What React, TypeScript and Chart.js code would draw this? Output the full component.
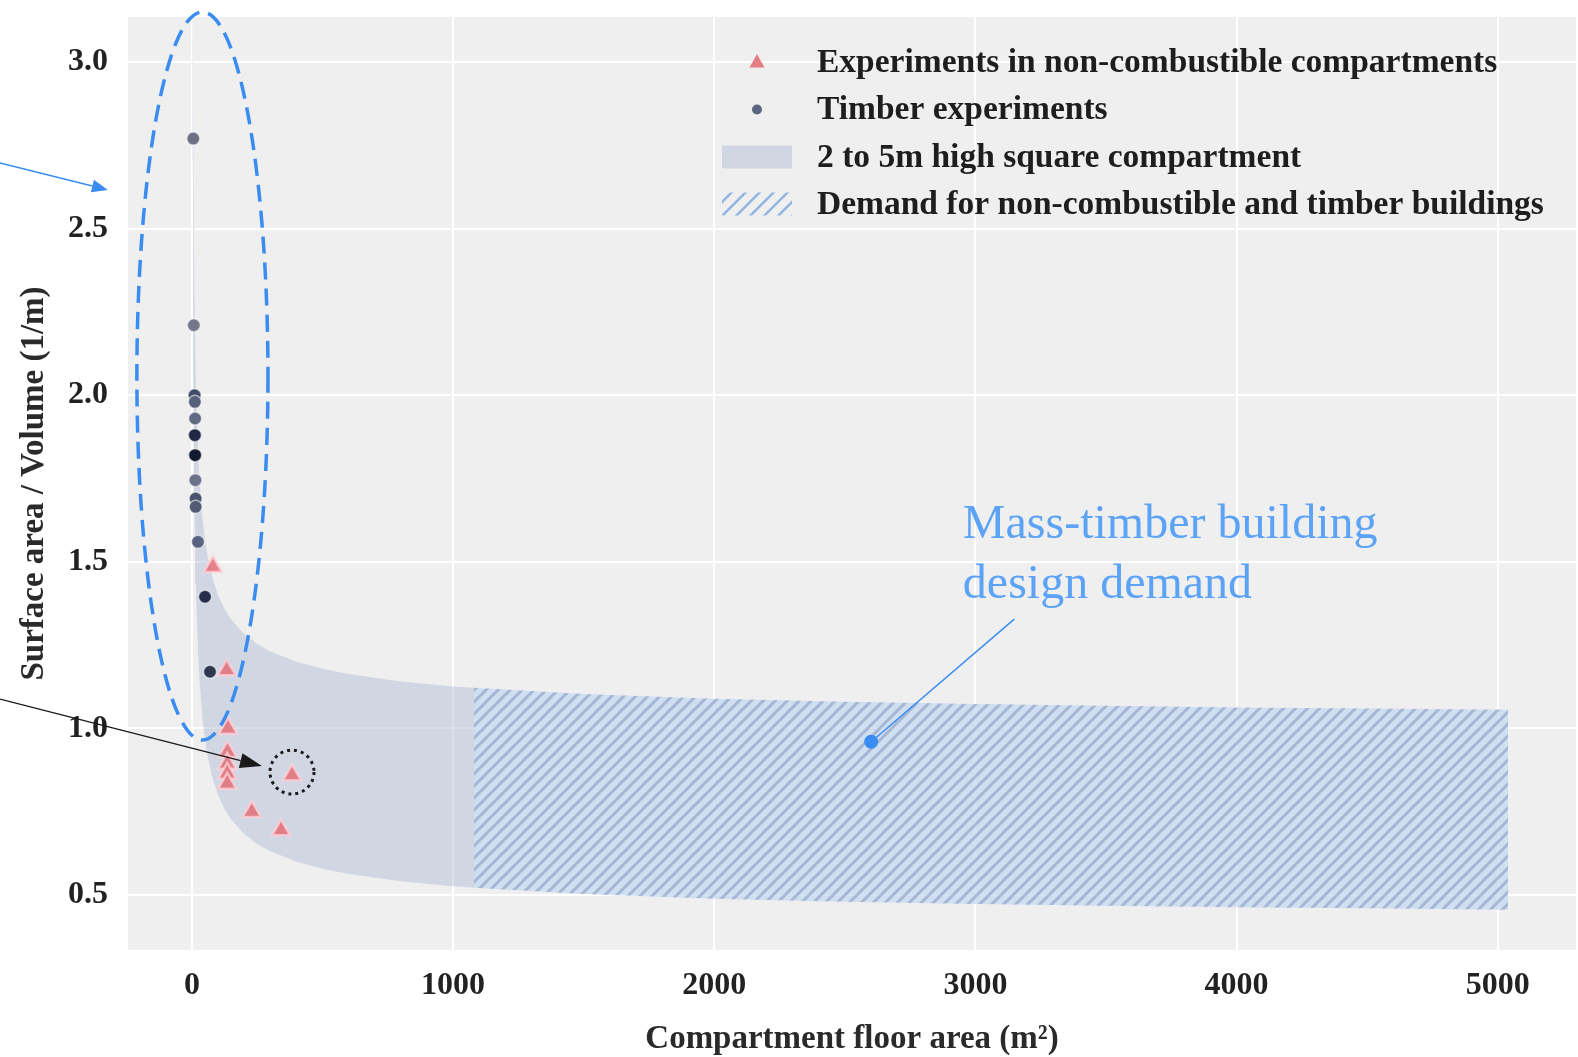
import React, { useEffect, useRef } from 'react';
import { Chart, registerables } from 'chart.js';

Chart.register(...registerables);

// Axis ticks
const xTicks = [0, 1000, 2000, 3000, 4000, 5000];
const yTicks = [0.5, 1.0, 1.5, 2.0, 2.5, 3.0];

// Timber compartment fire experiments: floor area (m²) and surface area / volume (1/m)
const timberArea = [5, 7, 10, 11, 12, 11, 12, 13, 14, 14, 23, 50, 69];
const timberRatio = [2.77, 2.21, 2.0, 1.98, 1.93, 1.88, 1.82, 1.745, 1.69, 1.665, 1.56, 1.395, 1.17];
const timberShade = [
  '#6e7183', '#74778a', '#3f4b68', '#56627c', '#5f6b82', '#1e2844', '#121a30',
  '#6a7188', '#4a546e', '#525c75', '#5a6480', '#242d4c', '#30384e',
];

// Experiments in non-combustible compartments
const nonCombArea = [80, 133, 138, 136, 135, 135, 135, 229, 341, 383];
const nonCombRatio = [1.485, 1.175, 1.0, 0.93, 0.895, 0.865, 0.835, 0.75, 0.695, 0.86];

// Envelope of 2 m (upper) to 5 m (lower) high square compartments
const bandArea = [1, 2, 3, 4, 5, 6, 8, 10, 12, 15, 20, 25, 30, 40, 50, 60, 80, 100, 125, 150, 200, 250, 300, 400, 500, 600, 800, 1000, 1080];
const bandUpper = [5.0, 3.828, 3.309, 3.0, 2.789, 2.633, 2.414, 2.265, 2.155, 2.033, 1.894, 1.8, 1.73, 1.632, 1.566, 1.516, 1.447, 1.4, 1.358, 1.327, 1.283, 1.253, 1.231, 1.2, 1.179, 1.163, 1.141, 1.126, 1.122];
const bandLower = [4.4, 3.228, 2.709, 2.4, 2.189, 2.033, 1.814, 1.665, 1.555, 1.433, 1.294, 1.2, 1.13, 1.032, 0.966, 0.916, 0.847, 0.8, 0.758, 0.727, 0.683, 0.653, 0.631, 0.6, 0.579, 0.563, 0.541, 0.526, 0.522];

// Demand range for non-combustible and timber buildings
const demandArea = [1080, 1500, 2000, 2500, 3000, 3500, 4000, 4500, 5040];
const demandUpper = [1.122, 1.103, 1.089, 1.08, 1.073, 1.068, 1.063, 1.06, 1.056];
const demandLower = [0.522, 0.503, 0.489, 0.48, 0.473, 0.468, 0.463, 0.46, 0.456];

const legendLabels = [
  'Experiments in non-combustible compartments',
  'Timber experiments',
  '2 to 5m high square compartment',
  'Demand for non-combustible and timber buildings',
];

const calloutLines = ['Mass-timber building', 'design demand'];

const SERIF = "'Liberation Serif', 'Times New Roman', serif";
const PLOT_BG = '#efeff0';
const BAND_FILL = 'rgba(168,182,208,0.42)';
const ACCENT = '#3a8cf0';

function toXY(xs: number[], ys: number[]) {
  return xs.map((x, i) => ({ x, y: ys[i] }));
}

function makeHatch(bg: string | null, line: string, size: number, width: number) {
  const c = document.createElement('canvas');
  c.width = size;
  c.height = size;
  const g = c.getContext('2d')!;
  if (bg) {
    g.fillStyle = bg;
    g.fillRect(0, 0, size, size);
  }
  g.strokeStyle = line;
  g.lineWidth = width;
  g.lineCap = 'square';
  for (const off of [-size, 0, size]) {
    g.beginPath();
    g.moveTo(off, size);
    g.lineTo(off + size, 0);
    g.stroke();
  }
  return g.createPattern(c, 'repeat')!;
}

function arrow(ctx: CanvasRenderingContext2D, x0: number, y0: number, x1: number, y1: number, color: string, lw: number, headLen: number, headW: number) {
  const ang = Math.atan2(y1 - y0, x1 - x0);
  const bx = x1 - Math.cos(ang) * headLen;
  const by = y1 - Math.sin(ang) * headLen;
  ctx.save();
  ctx.strokeStyle = color;
  ctx.fillStyle = color;
  ctx.lineWidth = lw;
  ctx.beginPath();
  ctx.moveTo(x0, y0);
  ctx.lineTo(bx, by);
  ctx.stroke();
  ctx.beginPath();
  ctx.moveTo(x1, y1);
  ctx.lineTo(bx + Math.sin(ang) * headW / 2, by - Math.cos(ang) * headW / 2);
  ctx.lineTo(bx - Math.sin(ang) * headW / 2, by + Math.cos(ang) * headW / 2);
  ctx.closePath();
  ctx.fill();
  ctx.restore();
}

export default function App() {
  const canvasRef = useRef<HTMLCanvasElement | null>(null);

  useEffect(() => {
    const canvas = canvasRef.current;
    if (!canvas) return;

    const demandPattern = makeHatch('rgba(200,218,243,0.8)', 'rgba(130,150,188,0.55)', 12, 3);
    const legendPattern = makeHatch(null, 'rgba(130,170,225,0.85)', 14, 2.5);

    const decorations = {
      id: 'decorations',
      beforeDraw(chart: any) {
        const { ctx, chartArea: a } = chart;
        ctx.save();
        ctx.fillStyle = PLOT_BG;
        ctx.fillRect(a.left, a.top, a.right - a.left, a.bottom - a.top);
        ctx.restore();
      },
      afterDatasetsDraw(chart: any) {
        const { ctx } = chart;
        const xs = chart.scales.x;
        const ys = chart.scales.y;
        const px = (a: number) => xs.getPixelForValue(a);
        const py = (v: number) => ys.getPixelForValue(v);

        // legend
        ctx.save();
        const lx = 722;
        const textX = 817;
        const rows = [62, 109.5, 157, 204];
        ctx.fillStyle = 'rgba(226,104,112,0.85)';
        ctx.beginPath();
        ctx.moveTo(757, rows[0] - 8);
        ctx.lineTo(757 + 7.5, rows[0] + 5.5);
        ctx.lineTo(757 - 7.5, rows[0] + 5.5);
        ctx.closePath();
        ctx.fill();
        ctx.fillStyle = '#5d6680';
        ctx.beginPath();
        ctx.arc(757, rows[1], 5, 0, Math.PI * 2);
        ctx.fill();
        ctx.fillStyle = BAND_FILL;
        ctx.fillRect(lx, rows[2] - 11.5, 70, 23);
        ctx.fillStyle = legendPattern;
        ctx.fillRect(lx, rows[3] - 11.5, 70, 23);
        ctx.fillStyle = '#1e1e1e';
        ctx.font = `bold 33.5px ${SERIF}`;
        ctx.textBaseline = 'middle';
        ctx.textAlign = 'left';
        legendLabels.forEach((t, i) => ctx.fillText(t, textX, rows[i] + 1));
        ctx.restore();

        // dashed ellipse around the timber experiments
        ctx.save();
        const eL = px(-211), eR = px(291), eT = py(3.15), eB = py(0.965);
        ctx.strokeStyle = ACCENT;
        ctx.lineWidth = 3.5;
        ctx.setLineDash([17, 9]);
        ctx.beginPath();
        ctx.ellipse((eL + eR) / 2, (eT + eB) / 2, (eR - eL) / 2, (eB - eT) / 2, 0, 0, Math.PI * 2);
        ctx.stroke();
        ctx.restore();

        // dotted circle around one non-combustible experiment
        ctx.save();
        ctx.strokeStyle = '#1a1a1a';
        ctx.lineWidth = 3;
        ctx.setLineDash([3, 4]);
        ctx.beginPath();
        ctx.arc(px(383), py(0.869), 22, 0, Math.PI * 2);
        ctx.stroke();
        ctx.restore();

        // arrows coming in from the left margin
        arrow(ctx, px(-735), py(2.697), px(-322), py(2.616), ACCENT, 1.6, 16, 13);
        arrow(ctx, px(-735), py(1.088), px(268), py(0.887), '#1a1a1a', 1.4, 22, 15);

        // callout for the demand region
        ctx.save();
        ctx.strokeStyle = ACCENT;
        ctx.fillStyle = ACCENT;
        ctx.lineWidth = 1.5;
        ctx.beginPath();
        ctx.moveTo(px(3149), py(1.328));
        ctx.lineTo(px(2601), py(0.96));
        ctx.stroke();
        ctx.beginPath();
        ctx.arc(px(2601), py(0.96), 7, 0, Math.PI * 2);
        ctx.fill();
        ctx.fillStyle = '#5ca3f6';
        ctx.font = `48px ${SERIF}`;
        ctx.textBaseline = 'alphabetic';
        ctx.textAlign = 'left';
        ctx.fillText(calloutLines[0], px(2952), py(1.57));
        ctx.fillText(calloutLines[1], px(2952), py(1.392));
        ctx.restore();
      },
    };

    const tickFont = { family: SERIF, size: 32, weight: 'bold' as const };
    const titleFont = { family: SERIF, size: 33, weight: 'bold' as const, lineHeight: 1.0 };

    const chart = new Chart(canvas, {
      type: 'scatter',
      data: {
        datasets: [
          {
            type: 'scatter',
            label: legendLabels[1],
            data: toXY(timberArea, timberRatio),
            pointStyle: 'circle',
            pointRadius: 6.5,
            backgroundColor: timberShade,
            borderColor: 'rgba(255,255,255,0.55)',
            borderWidth: 1.5,
            order: 1,
          },
          {
            type: 'scatter',
            label: legendLabels[0],
            data: toXY(nonCombArea, nonCombRatio),
            pointStyle: 'triangle',
            pointRadius: 10.5,
            backgroundColor: 'rgba(226,104,112,0.8)',
            borderColor: 'rgba(255,210,218,0.75)',
            borderWidth: 2.5,
            order: 0,
          },
          {
            type: 'line',
            label: legendLabels[2],
            data: toXY(bandArea, bandUpper),
            borderColor: 'transparent',
            borderWidth: 0,
            pointRadius: 0,
            backgroundColor: BAND_FILL,
            fill: '+1',
            order: 5,
          },
          {
            type: 'line',
            label: 'band-lower',
            data: toXY(bandArea, bandLower),
            borderColor: 'transparent',
            borderWidth: 0,
            pointRadius: 0,
            fill: false,
            order: 5,
          },
          {
            type: 'line',
            label: legendLabels[3],
            data: toXY(demandArea, demandUpper),
            borderColor: 'transparent',
            borderWidth: 0,
            pointRadius: 0,
            backgroundColor: demandPattern as any,
            fill: '+1',
            order: 4,
          },
          {
            type: 'line',
            label: 'demand-lower',
            data: toXY(demandArea, demandLower),
            borderColor: 'transparent',
            borderWidth: 0,
            pointRadius: 0,
            fill: false,
            order: 4,
          },
        ],
      },
      options: {
        responsive: false,
        animation: false,
        events: [],
        layout: { autoPadding: false, padding: { left: 0, right: 2, top: 17, bottom: 0 } },
        plugins: {
          legend: { display: false },
          tooltip: { enabled: false },
        },
        scales: {
          x: {
            type: 'linear',
            min: -245,
            max: 5300,
            afterBuildTicks: (s: any) => {
              s.ticks = xTicks.map((v) => ({ value: v }));
            },
            afterFit: (s: any) => {
              s.height = 107;
              s.paddingLeft = 0;
              s.paddingRight = 0;
            },
            grid: { color: '#ffffff', lineWidth: 2, drawTicks: false },
            border: { display: false },
            ticks: {
              padding: 17,
              color: '#222222',
              font: tickFont,
              callback: (v: any) => String(v),
            },
            title: {
              display: true,
              text: 'Compartment floor area (m²)',
              color: '#2a2a2a',
              font: titleFont,
              padding: { top: 0, bottom: 1 },
            },
          },
          y: {
            type: 'linear',
            min: 0.335,
            max: 3.135,
            afterBuildTicks: (s: any) => {
              s.ticks = yTicks.map((v) => ({ value: v }));
            },
            afterFit: (s: any) => {
              s.width = 128;
              s.paddingTop = 0;
              s.paddingBottom = 0;
            },
            grid: { color: '#ffffff', lineWidth: 2, drawTicks: false },
            border: { display: false },
            ticks: {
              padding: 20,
              color: '#222222',
              font: tickFont,
              callback: (v: any) => Number(v).toFixed(1),
            },
            title: {
              display: true,
              text: 'Surface area / Volume (1/m)',
              color: '#2a2a2a',
              font: titleFont,
              padding: { top: 18, bottom: 0 },
            },
          },
        },
      },
      plugins: [decorations],
    } as any);

    return () => chart.destroy();
  }, []);

  return (
    <div style={{ position: 'fixed', left: 0, top: 0, width: 1578, height: 1057, background: '#ffffff' }}>
      <canvas ref={canvasRef} width={1578} height={1057} style={{ display: 'block', width: 1578, height: 1057 }} />
    </div>
  );
}
